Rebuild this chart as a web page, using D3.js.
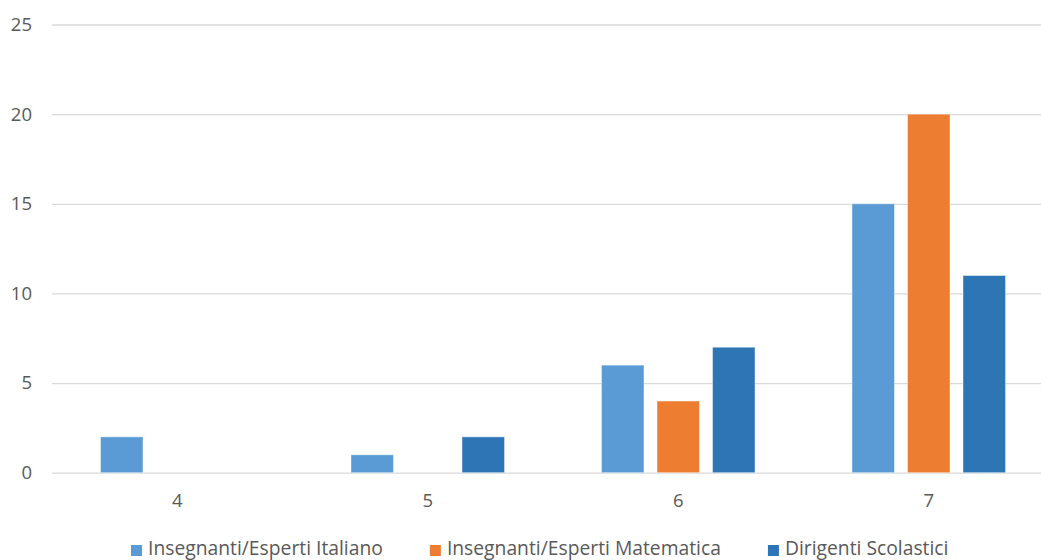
<!DOCTYPE html>
<html><head><meta charset="utf-8">
<script src="https://cdn.jsdelivr.net/npm/d3@7"></script>
<style>body{margin:0;background:#fff;} svg{display:block;} text{font-family:"Open Sans",sans-serif;fill:#595959;}</style>
</head><body>
<svg id="c" width="1041" height="560"></svg>
<script>
const categories = ["4","5","6","7"];
const seriesNames = ["Insegnanti/Esperti Italiano","Insegnanti/Esperti Matematica","Dirigenti Scolastici"];
const italiano = [2,1,6,15];
const matematica = [0,0,4,20];
const dirigenti = [0,2,7,11];
const yTicks = [0,5,10,15,20,25];
const colors = ["#5B9BD5","#ED7D31","#2E75B6"];
const seriesValues = [italiano, matematica, dirigenti];

const svg = d3.select("#c");
const x0 = 52, x1 = 1054, yTop = 24.5, yBot = 472.7;
const x = d3.scaleBand().domain(categories).range([x0,x1]).paddingInner(0).paddingOuter(0);
const y = d3.scaleLinear().domain([0,25]).range([yBot,yTop]);
const groupW = x.bandwidth()*0.613;
const xs = d3.scaleBand().domain(d3.range(3)).range([0,groupW]).paddingInner(0.234).paddingOuter(0);

// gridlines
const yAxis = d3.axisLeft(y).tickValues(yTicks).tickSize(-(x1-x0)).tickPadding(20).tickFormat(d3.format("d"));
const gy = svg.append("g").attr("transform",`translate(${x0},0)`).call(yAxis);
gy.select(".domain").remove();
gy.selectAll(".tick line").attr("stroke","#d9d9d9").attr("stroke-width",1.3);
gy.selectAll(".tick text").style("font-size","18.5px").attr("fill","#595959");

// bars
const data = [];
categories.forEach((c,i)=>seriesValues.forEach((s,j)=>data.push({c,j,v:s[i]})));
svg.append("g").selectAll("rect").data(data.filter(d=>d.v>0)).join("rect")
  .attr("x",d=>x(d.c)+(x.bandwidth()-groupW)/2+xs(d.j))
  .attr("width",xs.bandwidth())
  .attr("y",d=>y(d.v))
  .attr("height",d=>y(0)-y(d.v))
  .attr("fill",d=>colors[d.j])
  .attr("stroke","#fff").attr("stroke-opacity",0.45).attr("stroke-width",1);

// x axis labels
const xAxis = d3.axisBottom(x).tickSize(0).tickPadding(21);
const gx = svg.append("g").attr("transform",`translate(0,${yBot})`).call(xAxis);
gx.select(".domain").remove();
gx.selectAll(".tick text").style("font-size","18.5px").attr("fill","#595959");

// legend
const leg = svg.append("g");
let lx = 131;
seriesNames.forEach((n,i)=>{
  leg.append("rect").attr("x",lx).attr("y",545).attr("width",11).attr("height",11).attr("fill",colors[i]);
  const t = leg.append("text").attr("x",lx+17).attr("y",555).style("font-size","19.3px").text(n);
  const w = t.node().getComputedTextLength();
  lx = lx + 17 + w + 47;
});
</script>
</body></html>
